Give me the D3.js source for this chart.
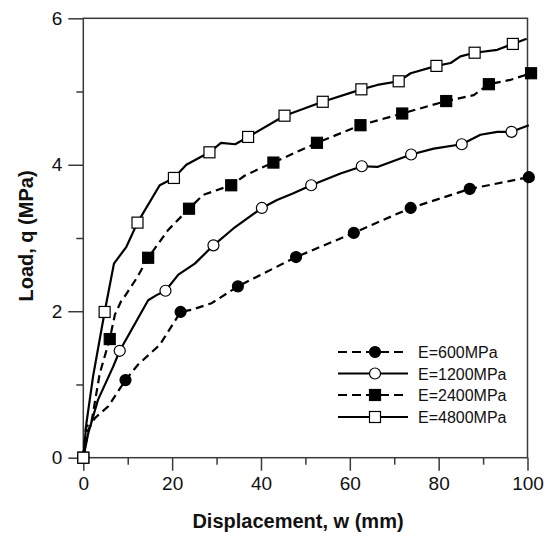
<!DOCTYPE html>
<html>
<head>
	<script src="https://d3js.org/d3.v7.min.js"></script>
	<style>
		body { margin: 0; background: #fff; }
		text { font-family: "Liberation Sans", Arial, sans-serif; fill: #111; }
	</style>
</head>
<body>
	<div class="CHANGE"></div>
	<script>
		// series labels (legend order)
		var labels = ["E=600MPa", "E=1200MPa", "E=2400MPa", "E=4800MPa"];

		// line points [w (mm), q (MPa)]
		var line600 = [[0,0],[1.1,0.38],[2.6,0.54],[5.6,0.70],[9.5,1.06],[12.3,1.27],[17.2,1.54],[21.9,1.99],[24.4,2.02],[28.9,2.11],[34.8,2.34],[47.9,2.74],[60.9,3.07],[73.7,3.41],[87.0,3.67],[100.3,3.83]];
		var line1200 = [[0,0],[1.1,0.33],[3.3,0.79],[6.7,1.24],[8.2,1.46],[10.8,1.74],[14.6,2.15],[16.5,2.22],[18.5,2.28],[21.4,2.50],[25.1,2.65],[29.3,2.90],[33.8,3.13],[40.2,3.41],[43.6,3.52],[47.3,3.61],[51.3,3.72],[57.9,3.88],[62.8,3.98],[66.2,3.97],[73.8,4.14],[78.9,4.22],[85.2,4.28],[89.4,4.41],[93.2,4.45],[96.4,4.45],[100.3,4.54]];
		var line2400 = [[0,0],[0.6,0.42],[1.8,0.47],[3.7,1.15],[5.95,1.62],[7.1,1.95],[8.6,2.15],[9.3,2.20],[12.0,2.45],[14.6,2.73],[19.1,3.11],[23.8,3.40],[27.0,3.59],[33.3,3.72],[36.3,3.85],[39.8,3.95],[42.8,4.03],[52.6,4.30],[62.4,4.54],[71.8,4.70],[81.7,4.87],[87.9,4.95],[91.3,5.10],[96.2,5.16],[100.8,5.25]];
		var line4800 = [[0,0],[0.7,0.47],[2.2,1.11],[4.8,1.99],[6.9,2.65],[9.7,2.88],[12.2,3.21],[17.2,3.72],[20.4,3.82],[23.2,4.00],[28.4,4.17],[31.0,4.30],[34.2,4.28],[37.1,4.38],[45.3,4.67],[53.9,4.86],[62.6,5.03],[66.2,5.09],[71.0,5.14],[73.7,5.25],[79.5,5.35],[82.7,5.39],[84.9,5.48],[88.1,5.53],[93.2,5.57],[96.7,5.65],[99.8,5.72]];

		// marker points
		var mark600 = [[0,0],[9.5,1.06],[21.9,1.99],[34.8,2.34],[47.9,2.74],[60.9,3.07],[73.7,3.41],[87.0,3.67],[100.3,3.83]];
		var mark1200 = [[0,0],[8.2,1.46],[18.5,2.28],[29.3,2.90],[40.2,3.41],[51.3,3.72],[62.7,3.98],[73.8,4.14],[85.2,4.28],[96.4,4.45]];
		var mark2400 = [[0,0],[5.95,1.62],[14.6,2.73],[23.8,3.40],[33.3,3.72],[42.8,4.03],[52.6,4.30],[62.4,4.54],[71.8,4.70],[81.7,4.87],[91.3,5.10],[100.8,5.25]];
		var mark4800 = [[0,0],[4.8,1.99],[12.2,3.21],[20.4,3.82],[28.4,4.17],[37.1,4.38],[45.3,4.67],[53.9,4.86],[62.6,5.03],[71.0,5.14],[79.5,5.35],[88.1,5.53],[96.7,5.65]];

		var xTicks = [0, 20, 40, 60, 80, 100];
		var yTicks = [0, 2, 4, 6];
		var xMinor = [10, 30, 50, 70, 90];
		var yMinor = [1, 3, 5];

		var w = 553, h = 539;
		var padL = 83.3, padR = 527.5, padT = 18.3, padB = 457.7;

		var svg = d3.select(".CHANGE")
			.append("svg")
			.attr("width", w)
			.attr("height", h);

		var x = d3.scaleLinear().domain([0, 100]).range([padL, padR]);
		var y = d3.scaleLinear().domain([0, 6]).range([padB, padT]);

		var axisColor = "#3a3a3a";

		// frame
		svg.append("rect")
			.attr("x", padL).attr("y", padT)
			.attr("width", padR - padL).attr("height", padB - padT)
			.attr("fill", "none")
			.attr("stroke", axisColor)
			.attr("stroke-width", 1.5);

		// axes
		var gx = svg.append("g")
			.attr("transform", "translate(0," + padB + ")")
			.call(d3.axisBottom(x).tickValues(xTicks).tickSize(13).tickPadding(6).tickFormat(d3.format("d")));
		gx.append("g").call(d3.axisBottom(x).tickValues(xMinor).tickSize(7).tickFormat(""));

		var gy = svg.append("g")
			.attr("transform", "translate(" + padL + ",0)")
			.call(d3.axisLeft(y).tickValues(yTicks).tickSize(15).tickPadding(6).tickFormat(d3.format("d")));
		gy.append("g").call(d3.axisLeft(y).tickValues(yMinor).tickSize(7).tickFormat(""));

		svg.selectAll(".domain").remove();
		svg.selectAll(".tick line").attr("stroke", axisColor).attr("stroke-width", 1.5);
		svg.selectAll(".tick text")
			.style("font-family", "'Liberation Sans', Arial, sans-serif")
			.style("font-size", "19px")
			.attr("fill", "#1a1a1a");

		// axis titles
		svg.append("text")
			.attr("x", 298).attr("y", 528)
			.attr("text-anchor", "middle")
			.style("font-size", "20px")
			.style("font-weight", "bold")
			.text("Displacement, w (mm)");

		svg.append("text")
			.attr("transform", "translate(33,236) rotate(-90)")
			.attr("text-anchor", "middle")
			.style("font-size", "20px")
			.style("font-weight", "bold")
			.text("Load, q (MPa)");

		var series = [
			{ label: labels[0], line: line600, marks: mark600, dash: "8,5", shape: "circle", fill: "#000" },
			{ label: labels[1], line: line1200, marks: mark1200, dash: null, shape: "circle", fill: "#fff" },
			{ label: labels[2], line: line2400, marks: mark2400, dash: "8,5", shape: "square", fill: "#000" },
			{ label: labels[3], line: line4800, marks: mark4800, dash: null, shape: "square", fill: "#fff" }
		];

		var lineGen = d3.line()
			.x(function(d) { return x(d[0]); })
			.y(function(d) { return y(d[1]); });

		function drawMarker(g, shape, fill) {
			if (shape == "circle") {
				g.append("circle").attr("r", 5.5);
			} else {
				g.append("rect").attr("x", -5.5).attr("y", -5.5).attr("width", 11).attr("height", 11);
			}
			g.selectAll("circle, rect")
				.attr("fill", fill)
				.attr("stroke", "#000")
				.attr("stroke-width", 1.2);
		}

		series.forEach(function(s) {
			svg.append("path")
				.datum(s.line)
				.attr("d", lineGen)
				.attr("fill", "none")
				.attr("stroke", "#000")
				.attr("stroke-width", 2.2)
				.attr("stroke-linejoin", "round")
				.attr("stroke-dasharray", s.dash);
		});

		series.forEach(function(s) {
			svg.append("g").selectAll("g")
				.data(s.marks)
				.enter()
				.append("g")
				.attr("transform", function(d) { return "translate(" + x(d[0]) + "," + y(d[1]) + ")"; })
				.each(function() { drawMarker(d3.select(this), s.shape, s.fill); });
		});

		// legend
		var legend = svg.append("g");
		var rowY = [352, 373.5, 395, 417];
		series.forEach(function(s, i) {
			var row = legend.append("g").attr("transform", "translate(0," + rowY[i] + ")");
			row.append("line")
				.attr("x1", 338).attr("x2", 408)
				.attr("stroke", "#000")
				.attr("stroke-width", 2.2)
				.attr("stroke-dasharray", s.dash ? "9,5" : null);
			var m = row.append("g").attr("transform", "translate(375,0)");
			drawMarker(m, s.shape, s.fill);
			row.append("text")
				.attr("x", 418).attr("y", 6)
				.style("font-size", "16px")
				.text(s.label);
		});
	</script>
</body>
</html>
